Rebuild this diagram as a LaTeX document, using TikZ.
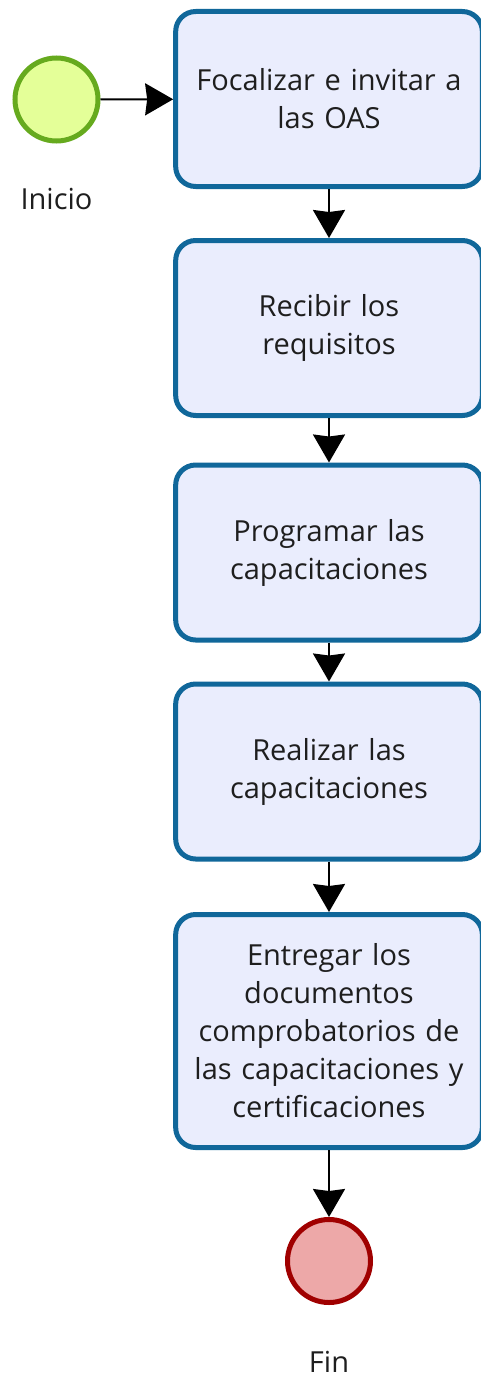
\documentclass[tikz,border=0pt]{standalone}
\usepackage{fontspec}
\setmainfont{Open Sans}
\usetikzlibrary{arrows.meta}
\definecolor{taskfill}{HTML}{EAEDFD}
\definecolor{taskline}{HTML}{10679A}
\definecolor{startfill}{HTML}{E4FF98}
\definecolor{startline}{HTML}{66AA1E}
\definecolor{endfill}{HTML}{EDA8A8}
\definecolor{endline}{HTML}{A00000}
\definecolor{labeltext}{HTML}{1E1E1E}
\tikzstyle{Task}=[rectangle, rounded corners=20pt, minimum width=305pt, minimum height=175pt, text width=300pt, align=center, draw=taskline, fill=taskfill, line width=5pt, text=labeltext, font=\fontsize{29}{38}\selectfont]
\tikzstyle{Event}=[circle, minimum size=83pt, line width=5pt]
\tikzstyle{Caption}=[anchor=base, text=labeltext, font=\fontsize{29}{38}\selectfont]
\tikzstyle{Flow}=[line width=2pt, -{Stealth[length=28pt, width=32pt, inset=2pt]}]

\begin{document}
\begin{tikzpicture}[x=1pt, y=-1pt]
    \useasboundingbox (0,0) rectangle (480,1378);
    \path
    (56.5,99.5) node[Event, draw=startline, fill=startfill] (inicio) {}
    (329,99) node[Task] (focalizar) {Focalizar e invitar a\\las OAS}
    (329,328) node[Task] (recibir) {Recibir los\\requisitos}
    (329,552.5) node[Task] (programar) {Programar las\\capacitaciones}
    (329,771.5) node[Task] (realizar) {Realizar las\\capacitaciones}
    (329,1031) node[Task, minimum height=233pt] (entregar) {Entregar los\\documentos\\comprobatorios de\\las capacitaciones y\\certificaciones}
    (329,1261) node[Event, draw=endline, fill=endfill] (fin) {};

    \path (56.5,209) node[Caption] (inicio label) {Inicio}
    (329,1372) node[Caption] (fin label) {Fin};

    \draw[Flow] (inicio) -- (focalizar);
    \draw[Flow] (focalizar) -- (recibir);
    \draw[Flow] (recibir) -- (programar);
    \draw[Flow] (programar) -- (realizar);
    \draw[Flow] (realizar) -- (entregar);
    \draw[Flow] (entregar) -- (fin);
\end{tikzpicture}
\end{document}
